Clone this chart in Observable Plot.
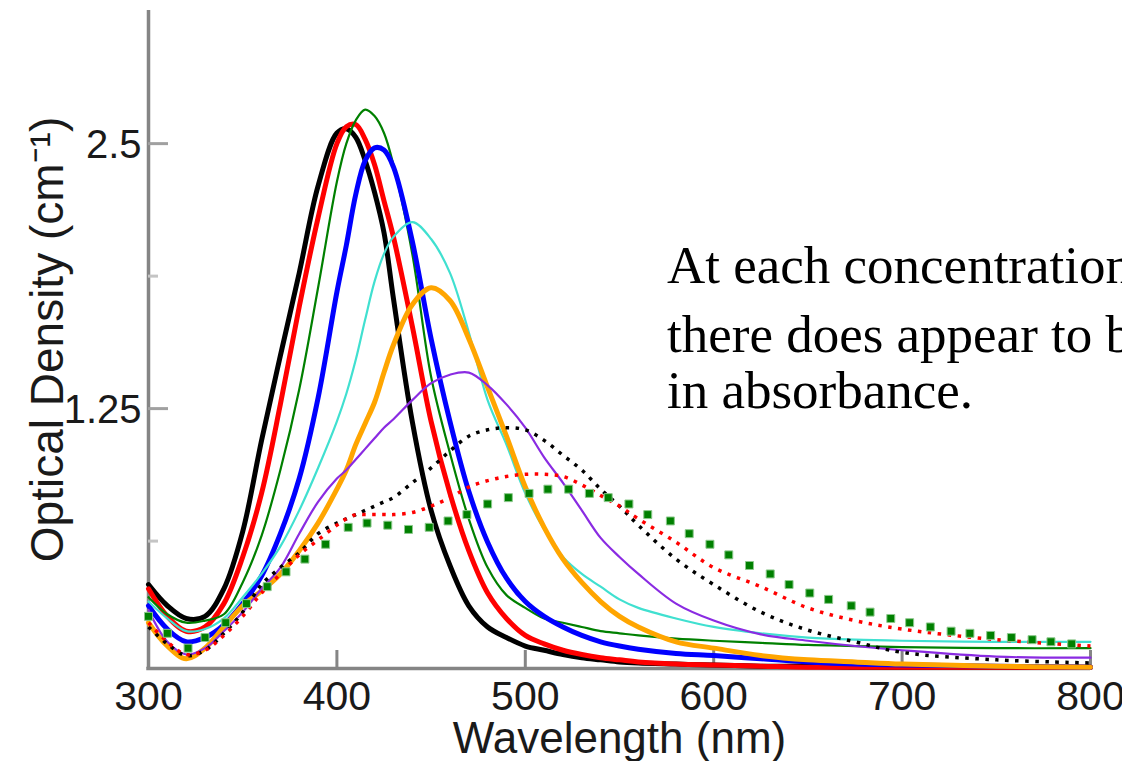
<!DOCTYPE html>
<html>
<head>
<meta charset="utf-8">
<script src="https://cdn.jsdelivr.net/npm/d3@7"></script>
<script src="https://cdn.jsdelivr.net/npm/@observablehq/plot@0.6"></script>
<style>
  html, body { margin: 0; padding: 0; background: #fff; overflow: hidden; }
  #wrap { position: relative; width: 1122px; height: 761px; overflow: hidden; background: #fff; }
  #note { position: absolute; left: 0; top: 0; pointer-events: none; }
</style>
</head>
<body>
<div id="wrap">
  <div id="chart"></div>
</div>
<script>
// ---- data ----
const wavelengths = [300,310,320,330,340,350,360,370,380,390,400,405,410,415,420,425,430,440,450,460,470,480,490,500,510,520,530,540,550,560,580,600,625,650,675,700,750,800];

const blackSolid  = [.42,.32,.26,.27,.40,.67,1.10,1.50,1.89,2.30,2.55, 2.57,2.53,2.42,2.27,2.08,1.77, 1.19,.77,.51,.32,.22,.17,.13,.11,.09,.075,.065,.055,.05, .045,.04,.035,.035,.03,.03,.03,.03];
const redSolid    = [.40,.27,.20,.22,.33,.55,.85,1.27,1.73,2.15,2.50, 2.58,2.59,2.52,2.40,2.23,2.06, 1.64,1.19,.85,.58,.38,.26,.18,.14,.11,.09,.075,.065,.055, .045,.04,.035,.03,.03,.03,.03,.03];
const greenSolid  = [.36,.28,.24,.25,.28,.43,.65,.96,1.34,1.82,2.32, 2.50,2.61,2.66,2.63,2.55,2.40, 1.98,1.40,1.04,.73,.50,.37,.31,.26,.24,.22,.20,.19,.18, .165,.155,.145,.135,.13,.125,.12,.12];
const blueSolid   = [.32,.21,.15,.17,.23,.33,.46,.66,.92,1.30,1.80, 2.02,2.26,2.42,2.48,2.47,2.39, 2.04,1.58,1.19,.86,.62,.45,.34,.27,.22,.18,.15,.13,.115, .095,.085,.07,.055,.045,.04,.035,.03];
const cyanSolid   = [.34,.26,.20,.21,.26,.36,.47,.60,.77,.97,1.19, 1.32,1.48,1.67,1.85,1.98,2.06, 2.13,2.05,1.89,1.61,1.29,1.08,.85,.68,.55,.47,.41,.35,.31, .26,.22,.19,.17,.16,.155,.15,.15];
const orangeSolid = [.24,.13,.07,.12,.22,.32,.39,.47,.58,.71,.87, .96,1.08,1.18,1.28,1.42,1.55, 1.74,1.82,1.76,1.58,1.35,1.12,.88,.69,.54,.43,.34,.27,.22, .15,.12,.085,.065,.055,.045,.035,.03];
const purpleSolid = [.30,.15,.09,.12,.20,.29,.40,.50,.66,.81,.92, .96,1.01,1.06,1.11,1.16,1.20, 1.29,1.37,1.41,1.42,1.36,1.27,1.16,1.02,.90,.77,.64,.55,.47, .33,.25,.185,.155,.13,.11,.08,.075];
const blackDotted = [.22,.14,.085,.11,.19,.29,.42,.50,.57,.66,.71, .73,.75,.77,.79,.81,.83, .90,.97,1.05,1.12,1.15,1.16,1.15,1.10,1.03,.96,.87,.79,.70, .54,.42,.29,.205,.15,.10,.065,.05];
const redDotted   = [.24,.15,.09,.11,.18,.27,.38,.47,.56,.63,.70, .73,.75,.75,.75,.75,.75, .76,.79,.83,.88,.91,.93,.94,.94,.93,.89,.84,.79,.73, .62,.50,.41,.31,.25,.21,.16,.13];

const squareWavelengths = [300,310,321,330,341,352,363,373,383,394,406,416,427,438,449,459,469,480,491,502,512,523,534,544,555,565,577,587,598,608,619,630,640,651,661,673,683,694,704,715,726,736,747,758,769,779,790];
const squareValues      = [.27,.19,.12,.17,.24,.33,.41,.48,.54,.61,.69,.71,.70,.68,.69,.72,.75,.80,.83,.85,.87,.87,.85,.83,.80,.75,.72,.66,.61,.56,.51,.47,.42,.38,.35,.32,.29,.26,.24,.22,.20,.19,.18,.17,.16,.15,.14];

const xTicks = [300,400,500,600,700,800];
const xTickLabels = ["300","400","500","600","700","800"];
const yTicks = [1.25, 2.5];
const yTickLabels = ["1.25","2.5"];
const yMinorTicks = [0.625, 1.875];

const xTitle = "Wavelength (nm)";
const yTitle = "Optical Density (cm\u207B\u00B9)";
const noteLines = ["At each concentration,", "there does appear to be a", "in absorbance."];

// ---- styles ----
const xDomain = [300, 800];
const yDomain = [0.024, 3.128];
const W = 1122, H = 761;
const mL = 148, mR = 32, mT = 10, mB = 93;
const plotW = W - mL - mR, plotH = H - mT - mB;
const axisGray = "#858585";
const sans = "'Liberation Sans', Arial, Helvetica, sans-serif";

const series = [
  {values: blackSolid,  stroke: "#000000", width: 5},
  {values: redSolid,    stroke: "#ff0000", width: 5},
  {values: greenSolid,  stroke: "#008000", width: 2.2},
  {values: blueSolid,   stroke: "#0000ff", width: 5},
  {values: cyanSolid,   stroke: "#40e0d0", width: 2.2},
  {values: orangeSolid, stroke: "#ffa500", width: 5},
  {values: purpleSolid, stroke: "#8a2be2", width: 2.2},
  {values: blackDotted, stroke: "#000000", width: 3.5, dash: "3.5,6.5"},
  {values: redDotted,   stroke: "#ff0000", width: 3.5, dash: "3.5,6.5"}
];

const lineMarks = series.map(s => Plot.line(
  wavelengths.map((w, i) => ({w, v: s.values[i]})),
  {x: "w", y: "v", stroke: s.stroke, strokeWidth: s.width,
   strokeDasharray: s.dash, curve: "catmull-rom",
   strokeLinecap: s.dash ? "butt" : "round", strokeLinejoin: "round"}
));

const squares = squareWavelengths.map((w, i) => ({w, v: squareValues[i]}));

const chart = Plot.plot({
  width: W, height: H,
  marginLeft: mL, marginRight: mR, marginTop: mT, marginBottom: mB,
  x: {domain: xDomain, axis: null},
  y: {domain: yDomain, axis: null},
  style: {background: "#fff", fontFamily: sans, color: "#1a1a1a", overflow: "visible"},
  marks: [
    // axes
    Plot.ruleX([xDomain[0]], {stroke: axisGray, strokeWidth: 3.5}),
    Plot.ruleY([yDomain[0]], {stroke: axisGray, strokeWidth: 3.5, insetLeft: -1.75}),
    Plot.ruleX(xTicks.slice(1), {stroke: axisGray, strokeWidth: 3, insetTop: plotH - 18}),
    Plot.ruleY(yTicks, {stroke: "#a0a0a0", strokeWidth: 3, insetRight: plotW - 20}),
    Plot.ruleY(yMinorTicks, {stroke: "#c4c4c4", strokeWidth: 3, insetRight: plotW - 10}),
    Plot.text(xTicks, {x: d => d, text: (d, i) => xTickLabels[i], frameAnchor: "bottom",
      lineAnchor: "bottom", dy: 41, fontSize: 41, fill: "#1a1a1a"}),
    Plot.text(yTicks, {y: d => d, text: (d, i) => yTickLabels[i], frameAnchor: "left",
      textAnchor: "end", dx: -7, dy: 2, fontSize: 40, fill: "#1a1a1a"}),
    Plot.text([xTitle], {frameAnchor: "bottom", lineAnchor: "bottom", dy: 84, fontSize: 44, fill: "#1a1a1a"}),
    Plot.text([yTitle], {frameAnchor: "left", textAnchor: "middle", rotate: -90, lineAnchor: "bottom",
      dx: -86, fontSize: 46, fill: "#1a1a1a"}),
    // data
    ...lineMarks,
    Plot.dot(squares, {x: "w", y: "v", symbol: "square", r: 4.5, fill: "#008000", stroke: "#8cc98c", strokeWidth: 1})
  ]
});
document.getElementById("chart").appendChild(chart);

// annotation text overlay
const svgNS = "http://www.w3.org/2000/svg";
const note = document.createElementNS(svgNS, "svg");
note.setAttribute("id", "note");
note.setAttribute("width", W);
note.setAttribute("height", H);
const baselines = [283, 352, 408];
noteLines.forEach((t, i) => {
  const el = document.createElementNS(svgNS, "text");
  el.setAttribute("x", 667);
  el.setAttribute("y", baselines[i]);
  el.setAttribute("font-family", "'Liberation Serif', 'Times New Roman', serif");
  el.setAttribute("font-size", 53);
  el.setAttribute("fill", "#000");
  el.textContent = t;
  note.appendChild(el);
});
document.getElementById("wrap").appendChild(note);
</script>
</body>
</html>
